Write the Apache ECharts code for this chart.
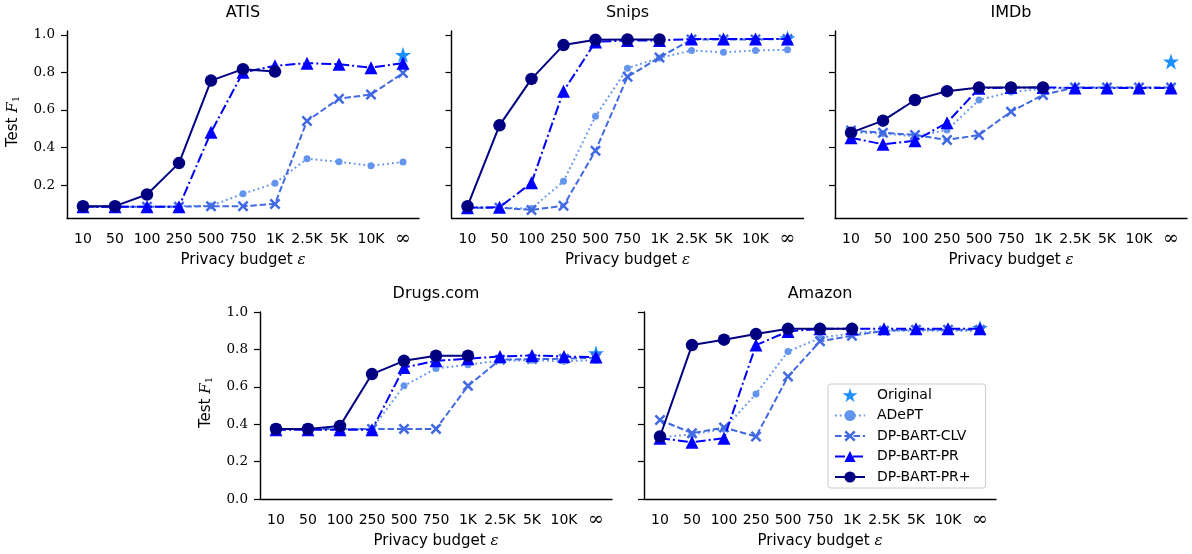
<!DOCTYPE html>
<html>
<head>
<meta charset="utf-8">
<script src="https://cdn.jsdelivr.net/npm/echarts@6/dist/echarts.min.js"></script>
<style>html,body{margin:0;padding:0;background:#fff;}#c{width:1192px;height:554px;}</style>
</head>
<body>
<div id="c"></div>
<script>
// ---------- data ----------
const categories = ['10','50','100','250','500','750','1K','2.5K','5K','10K','\u221e'];
const seriesNames = ['Original','ADePT','DP-BART-CLV','DP-BART-PR','DP-BART-PR+'];
const datasets = ['ATIS','Snips','IMDb','Drugs.com','Amazon'];

const atisOriginal = 0.893;
const atisAdept  = [0.085,0.085,0.085,0.088,0.090,0.154,0.210,0.340,0.324,0.303,0.323];
const atisClv    = [0.085,0.085,0.085,0.085,0.088,0.088,0.100,0.541,0.660,0.682,0.796];
const atisPr     = [0.085,0.085,0.085,0.085,0.481,0.800,0.835,0.849,0.843,0.825,0.849];
const atisPrPlus = [0.088,0.088,0.150,0.317,0.756,0.817,0.804,null,null,null,null];

const snipsOriginal = 0.982;
const snipsAdept  = [0.080,0.080,0.075,0.220,0.566,0.822,0.877,0.916,0.907,0.916,0.920];
const snipsClv    = [0.080,0.080,0.068,0.090,0.383,0.776,0.879,0.975,0.975,0.975,0.978];
const snipsPr     = [0.080,0.082,0.212,0.700,0.962,0.970,0.970,0.977,0.977,0.977,0.977];
const snipsPrPlus = [0.088,0.518,0.765,0.945,0.973,0.975,0.975,null,null,null,null];

const imdbOriginal = 0.858;
const imdbAdept  = [0.480,0.475,0.460,0.493,0.653,0.696,0.712,0.720,0.720,0.720,0.720];
const imdbClv    = [0.490,0.479,0.467,0.440,0.467,0.591,0.680,0.720,0.720,0.720,0.720];
const imdbPr     = [0.452,0.417,0.436,0.532,0.715,0.720,0.720,0.717,0.717,0.717,0.717];
const imdbPrPlus = [0.479,0.543,0.653,0.700,0.719,0.720,0.720,null,null,null,null];

const drugsOriginal = 0.780;
const drugsAdept  = [0.375,0.375,0.375,0.375,0.605,0.698,0.718,0.740,0.742,0.737,0.742];
const drugsClv    = [0.375,0.375,0.375,0.375,0.375,0.375,0.605,0.745,0.748,0.750,0.755];
const drugsPr     = [0.370,0.370,0.370,0.370,0.703,0.739,0.750,0.762,0.768,0.762,0.759];
const drugsPrPlus = [0.375,0.375,0.391,0.668,0.739,0.766,0.766,null,null,null,null];

const amazonOriginal = 0.915;
const amazonAdept  = [0.330,0.345,0.375,0.562,0.789,0.861,0.886,0.900,0.900,0.900,0.900];
const amazonClv    = [0.423,0.352,0.382,0.334,0.655,0.843,0.873,0.900,0.905,0.905,0.905];
const amazonPr     = [0.325,0.304,0.325,0.823,0.896,0.910,0.910,0.910,0.910,0.910,0.910];
const amazonPrPlus = [0.334,0.823,0.852,0.882,0.910,0.910,0.910,null,null,null,null];

const topTicks = [0.2,0.4,0.6,0.8,1.0];

// ---------- layout / style ----------
const panelData = [
  [atisOriginal, atisAdept, atisClv, atisPr, atisPrPlus],
  [snipsOriginal, snipsAdept, snipsClv, snipsPr, snipsPrPlus],
  [imdbOriginal, imdbAdept, imdbClv, imdbPr, imdbPrPlus],
  [drugsOriginal, drugsAdept, drugsClv, drugsPr, drugsPrPlus],
  [amazonOriginal, amazonAdept, amazonClv, amazonPr, amazonPrPlus]
];
const layout = [
  {left:67,  top:31,  showY:true,  row:0},
  {left:451.5, top:31, showY:false, row:0},
  {left:835, top:31,  showY:false, row:0},
  {left:260, top:312, showY:true,  row:1},
  {left:644, top:312, showY:false, row:1}
];
const W = 352, H = 187;

const STAR = 'path://M50,0 L61.2,34.5 L97.6,34.5 L68.2,55.9 L79.4,90.5 L50,69.1 L20.6,90.5 L31.8,55.9 L2.4,34.5 L38.8,34.5 Z';
const XMARK = 'path://M0,1.6 L1.6,0 L5,3.4 L8.4,0 L10,1.6 L6.6,5 L10,8.4 L8.4,10 L5,6.6 L1.6,10 L0,8.4 L3.4,5 Z';

const styles = [
  {color:'#1E8FFF'},
  {color:'#6495ED', symbol:'circle', size:7, dash:[1.8,3], width:2},
  {color:'#4169E1', symbol:XMARK, size:11, dash:[6.5,2.8], width:2},
  {color:'#0000FF', symbol:'triangle', size:13, dash:[10,3,2,3], width:2},
  {color:'#000080', symbol:'circle', size:12.5, dash:'solid', width:2}
];

const tickFont = 'DejaVu Sans';
const grids = [], xAxes = [], yAxes = [], series = [], graphics = [];

layout.forEach((p, i) => {
  grids.push({left:p.left, top:p.top, width:W, height:H, containLabel:false});
  xAxes.push({
    type:'category', gridIndex:i, data:categories, boundaryGap:true,
    axisLine:{lineStyle:{color:'#000', width:1.4}},
    axisTick:{alignWithLabel:true, length:6, lineStyle:{color:'#000', width:1.2}},
    axisLabel:{color:'#000', fontFamily:tickFont, fontSize:14, lineHeight:16, margin:13, interval:0,
      formatter:v => v === '\u221e' ? '{inf|\u221e}' : v,
      rich:{inf:{fontFamily:'DejaVu Serif', fontSize:19, lineHeight:16, color:'#000', verticalAlign:'middle'}}},
    splitLine:{show:false},
    name:'Privacy budget {e|\u03b5}', nameLocation:'middle', nameGap:35,
    nameTextStyle:{color:'#000', fontFamily:tickFont, fontSize:15,
      rich:{e:{fontFamily:'DejaVu Serif', fontStyle:'italic', fontSize:15, color:'#000'}}}
  });
  const top = p.row === 0;
  yAxes.push({
    type:'value', gridIndex:i,
    min: top ? 0.025 : 0, max: top ? 1.02 : 1.0,
    interval: top ? undefined : 0.2,
    axisLine:{show:true, lineStyle:{color:'#000', width:1.4}},
    axisTick:{show:true, length:6, lineStyle:{color:'#000', width:1.2},
      customValues: top ? topTicks : undefined},
    axisLabel:{show:p.showY, color:'#000', fontFamily:'DejaVu Serif', fontSize:13.5, margin:12,
      formatter:v => v.toFixed(1), customValues: top ? topTicks : undefined},
    splitLine:{show:false}
  });
  graphics.push({
    type:'text', x:p.left + W/2, y:p.top - 18.5,
    style:{text:datasets[i], fontFamily:tickFont, fontSize:16, fill:'#000', textAlign:'center', textVerticalAlign:'middle'}
  });
  if (p.showY) {
    graphics.push({
      type:'text', x:p.left - 54, y:p.top + H/2 - 3, rotation:Math.PI/2,
      style:{text:'Test {f|F}{s|1}', fontFamily:tickFont, fontSize:15, fill:'#000',
        textAlign:'center', textVerticalAlign:'middle',
        rich:{f:{fontFamily:'DejaVu Serif', fontStyle:'italic', fontSize:15, fill:'#000'},
              s:{fontFamily:'DejaVu Serif', fontSize:10, fill:'#000', padding:[7,0,0,0]}}}
    });
  }
  const d = panelData[i];
  // Original (star at infinity)
  series.push({
    name:seriesNames[0], type:'scatter', xAxisIndex:i, yAxisIndex:i,
    symbol:STAR, symbolSize:16, itemStyle:{color:styles[0].color, opacity:1}, z:2,
    data:[[categories.length - 1, d[0]]]
  });
  for (let k = 1; k <= 4; k++) {
    const s = styles[k];
    series.push({
      name:seriesNames[k], type:'line', xAxisIndex:i, yAxisIndex:i,
      data:d[k], symbol:s.symbol, symbolSize:s.size, showSymbol:true, showAllSymbol:true,
      connectNulls:false, z:2 + k,
      lineStyle:{color:s.color, width:s.width, type:s.dash},
      itemStyle:{color:s.color, borderWidth:0, opacity:1}
    });
  }
});

const chart = echarts.init(document.getElementById('c'), null, {renderer:'canvas'});
chart.setOption({
  animation:false,
  backgroundColor:'#fff',
  grid:grids, xAxis:xAxes, yAxis:yAxes, series:series, graphic:graphics,
  legend:{
    data:seriesNames, orient:'vertical', left:828, top:384,
    padding:[4,15,4,6], itemGap:6.5, itemWidth:30, itemHeight:14,
    backgroundColor:'rgba(255,255,255,0.85)', borderColor:'#cccccc', borderWidth:1, borderRadius:3,
    textStyle:{fontFamily:tickFont, fontSize:14, color:'#000', padding:[0,0,0,7]},
    selectedMode:false
  }
});
</script>
</body>
</html>
